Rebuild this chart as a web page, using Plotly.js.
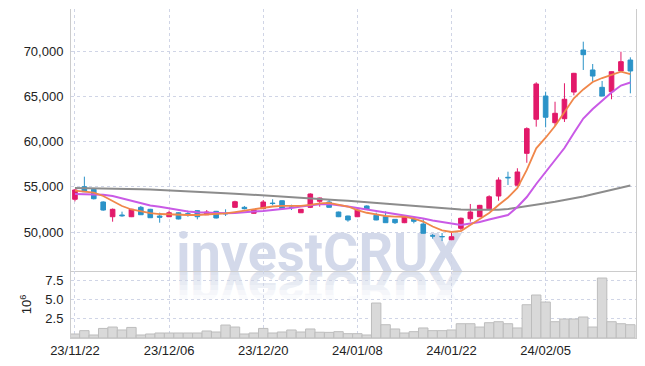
<!DOCTYPE html>
<html>
<head>
<meta charset="utf-8">
<script src="https://cdn.plot.ly/plotly-3.0.1.min.js"></script>
<style>
  html, body { margin: 0; padding: 0; background: #ffffff; }
  #chart { width: 645px; height: 366px; }
</style>
</head>
<body>
<div id="chart"></div>
<script>
const dates = ["23/11/22","23/11/23","23/11/24","23/11/27","23/11/28","23/11/29","23/11/30","23/12/01","23/12/04","23/12/05",
  "23/12/06","23/12/07","23/12/08","23/12/11","23/12/12","23/12/13","23/12/14","23/12/15","23/12/18","23/12/19",
  "23/12/20","23/12/21","23/12/22","23/12/26","23/12/27","23/12/28","24/01/02","24/01/03","24/01/04","24/01/05",
  "24/01/08","24/01/09","24/01/10","24/01/11","24/01/12","24/01/15","24/01/16","24/01/17","24/01/18","24/01/19",
  "24/01/22","24/01/23","24/01/24","24/01/25","24/01/26","24/01/29","24/01/30","24/01/31","24/02/01","24/02/02",
  "24/02/05","24/02/06","24/02/07","24/02/08","24/02/13","24/02/14","24/02/15","24/02/16","24/02/19","24/02/20"];

const openP = [53620,55010,54720,53320,51690,51880,51690,52730,52510,51770,
  51690,52130,52020,52360,51910,52290,52070,52730,52730,52070,
  52580,53200,53460,52760,52130,52730,53400,53320,52210,51770,
  51690,52880,51850,51690,51400,51030,51400,50880,49580,49500,
  49150,50410,51470,51690,52580,53980,56050,55170,58700,62470,
  65040,62090,62530,65480,70130,67920,66000,65520,67810,69020];
const highP = [54740,56120,54800,53400,52600,52250,52560,52880,52560,52140,
  52360,52180,52360,52400,52430,52330,52510,53460,52880,52480,
  53540,53620,53500,53020,52540,54280,53800,53620,52250,51800,
  52480,52950,52140,52290,51440,51800,51620,51400,49780,49890,
  49930,51600,53100,53000,54060,56050,56670,57050,61580,66560,
  65520,64410,66450,67600,71050,68580,66700,67760,69940,69320];
const lowP = [53390,54420,53600,52350,51140,51690,51650,51880,51560,51030,
  51650,51400,51690,51400,51880,51500,51770,52700,52500,52040,
  52540,52950,52500,52430,52100,52650,52800,52700,51650,51140,
  51650,52470,51300,51000,50890,50980,50960,49820,49260,49000,
  49100,50220,51140,51650,52540,53460,55200,55130,57660,61650,
  61580,61720,62170,65120,67920,66620,65000,64680,67700,65340];
const closeP = [54650,54460,53680,52430,52510,51800,52510,51910,51580,51630,
  52130,51440,51990,51690,52210,51550,52020,53350,52580,52430,
  53320,53150,52580,52730,52510,54200,53760,52730,51690,51330,
  52430,52510,51330,51030,51030,51770,51180,49860,49560,49480,
  49480,51520,52210,52950,53900,55750,56000,56640,61430,66370,
  62690,63130,64680,67550,69610,67250,65040,67730,68840,67810];

const maShort = [54570,54480,54350,53980,53430,52880,52490,52270,52100,51990,
  51940,51880,51880,51880,51940,51990,52070,52210,52380,52540,
  52710,52820,52880,52880,52880,52990,53170,53230,53040,52820,
  52430,52130,51940,51770,51710,51690,51490,51160,50610,50190,
  50000,50110,50770,51440,52100,52990,53820,54870,56860,59260,
  60430,61730,63190,64790,65770,66590,67030,67400,67730,67470];
const maMid = [54200,54180,54150,54110,53980,53710,53430,53150,52930,52800,
  52600,52430,52270,52180,52120,52080,52070,52100,52210,52270,
  52320,52430,52510,52650,52820,52960,53060,53100,52990,52820,
  52650,52490,52270,52100,51940,51770,51660,51490,51270,51110,
  50880,50770,50940,51110,51380,51660,51880,52770,53870,55310,
  56640,57960,59290,60950,62550,63600,64540,65430,66200,66530];
const maLong = [54870,54860,54830,54810,54790,54760,54740,54720,54690,54650,
  54600,54560,54510,54460,54400,54350,54290,54240,54180,54140,
  54070,54000,53940,53870,53790,53730,53660,53600,53520,53450,
  53370,53270,53190,53100,53010,52930,52840,52750,52660,52590,
  52520,52480,52460,52440,52440,52460,52540,52680,52840,53010,
  53170,53340,53520,53710,53930,54170,54420,54670,54900,55140];

const volumeMillions = [0.52,0.95,0.39,1.24,1.42,1.04,1.37,0.39,0.52,0.65,
  0.65,0.65,0.65,0.65,0.91,0.78,1.68,1.42,0.52,0.65,
  1.24,0.65,0.78,1.04,0.78,1.17,0.75,0.73,0.82,0.56,
  0.56,0.39,4.53,1.72,1.17,0.65,0.82,1.30,0.95,0.95,
  1.04,1.85,1.85,1.42,1.98,2.11,1.85,1.30,4.31,5.57,
  4.66,2.11,2.46,2.46,2.72,1.42,7.77,2.11,1.85,1.72];

const tickDates = ["23/11/22","23/12/06","23/12/20","24/01/08","24/01/22","24/02/05"];
const priceTicks = [50000,55000,60000,65000,70000];
const volumeTicks = [2.5,5.0,7.5];
const watermarkText = "investCRUX";

const UP = '#e2196a', DOWN = '#2b93c8';
const GRID = '#d0d5e6', AXLINE = '#cccccc';
const volTop = 0.2036;

const data = [
  { type:'bar', x:dates, y:volumeMillions, xaxis:'x2', yaxis:'y2',
    marker:{ color:'#d9d9d9', line:{ color:'#bdbdbd', width:1 } } },
  { type:'candlestick', x:dates, open:openP, high:highP, low:lowP, close:closeP,
    xaxis:'x', yaxis:'y', whiskerwidth:0,
    increasing:{ line:{ color:UP, width:1 }, fillcolor:UP },
    decreasing:{ line:{ color:DOWN, width:1 }, fillcolor:DOWN } },
  { type:'scatter', mode:'lines', x:dates, y:maLong, line:{ color:'#8c8c8c', width:2 } },
  { type:'scatter', mode:'lines', x:dates, y:maMid, line:{ color:'#c95ae6', width:2 } },
  { type:'scatter', mode:'lines', x:dates, y:maShort, line:{ color:'#f0874a', width:1.8 } }
];

const commonX = {
  type:'category', range:[-0.42, 59.6], tickvals:tickDates, ticks:'',
  showgrid:true, gridcolor:GRID, griddash:'dot', gridwidth:1,
  showline:true, linecolor:AXLINE, linewidth:1, zeroline:false, fixedrange:true
};

const wmLabel = (txt, color) => ({
  type:'rect', xref:'paper', yref:'paper', x0:0.20, x1:0.68, y0:0.2139, y1:0.3303,
  line:{ width:0 }, fillcolor:'rgba(0,0,0,0)', layer:'below',
  label:{ text:txt, textposition:'middle center',
    font:{ family:'Roboto, Arial, sans-serif', size:54, color:color } }
});
// white veils (drawn over the reflection only, beneath grid and traces) to fade it out downwards
const fadeBands = [[0.1763,0.1915,0.15],[0.1611,0.1763,0.3],[0.1459,0.1611,0.5],[0.1307,0.1459,0.7],[0.1155,0.1307,0.85],[0.07,0.1155,1]]
  .map(([y0, y1, op]) => ({ type:'rect', xref:'paper', yref:'paper', x0:0.17, x1:0.72, y0:y0, y1:y1,
    line:{ width:0 }, fillcolor:'rgba(255,255,255,' + op + ')', layer:'below' }));

const layout = {
  width:645, height:366,
  margin:{ l:71, r:9, t:9, b:28 },
  paper_bgcolor:'#ffffff', plot_bgcolor:'#ffffff',
  showlegend:false, hovermode:false,
  font:{ family:'Liberation Sans, Arial, sans-serif', size:13, color:'#222222' },
  bargap:0,
  xaxis: Object.assign({}, commonX, { anchor:'y', showticklabels:false, rangeslider:{ visible:false } }),
  xaxis2: Object.assign({}, commonX, { anchor:'y2', showticklabels:true }),
  yaxis: { domain:[volTop, 1], range:[45686, 74664], tickvals:priceTicks, tickformat:',d',
    showgrid:true, gridcolor:GRID, griddash:'dot', showline:true, mirror:true, linecolor:AXLINE,
    zeroline:false, ticks:'', ticklabelstandoff:4, fixedrange:true },
  yaxis2: { domain:[0, volTop], range:[0, 8.68], tickvals:volumeTicks, tickformat:'.1f',
    showgrid:true, gridcolor:GRID, griddash:'dot', showline:true, mirror:true, linecolor:AXLINE,
    zeroline:false, ticks:'', ticklabelstandoff:4, fixedrange:true,
    title:{ text:'10<sup>6</sup>', font:{ size:13, color:'#222222' }, standoff:10 } },
  shapes: [ wmLabel(watermarkText, '#d3d9ea'), wmLabel(watermarkText, '#dde2ee') ].concat(fadeBands)
};

Plotly.newPlot('chart', data, layout, { staticPlot:true, displayModeBar:false }).then(gd => {
  const ns = 'http://www.w3.org/2000/svg';
  const texts = Array.from(gd.querySelectorAll('text')).filter(t => t.textContent === watermarkText);
  texts.forEach(t => { t.style.fontWeight = '700'; });
  if (texts.length >= 2) {
    // mirror the second copy of the watermark below its baseline (reflection)
    const t = texts[1];
    const base = parseFloat(t.getAttribute('y'));
    const g = document.createElementNS(ns, 'g');
    g.setAttribute('transform', 'translate(0,' + (2 * base) + ') scale(1,-1)');
    t.parentNode.insertBefore(g, t);
    g.appendChild(t);
  }
});
</script>
</body>
</html>
